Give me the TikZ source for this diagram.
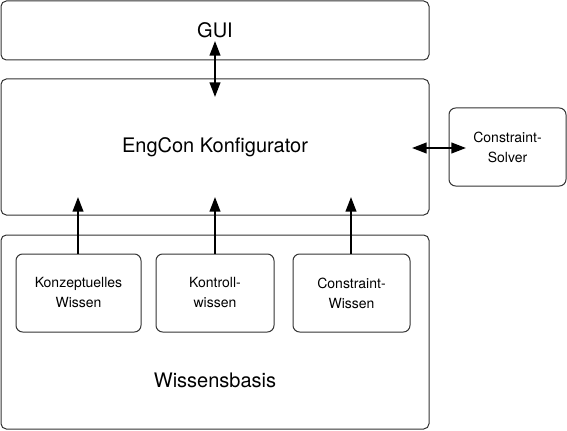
\documentclass[tikz,border=0pt]{standalone}
\usepackage{fontspec}
\setmainfont{TeX Gyre Heros}
\usetikzlibrary{arrows.meta}

\begin{document}
\begin{tikzpicture}[x=0.75pt, y=-0.75pt,
    box/.style={draw=black!80, line width=0.75pt, rounded corners=4pt, inner sep=0pt},
    teil/.style={box, rounded corners=5pt, minimum width=88pt, minimum height=58.5pt, align=center,
        font=\fontsize{10.5}{15}\selectfont},
    gross/.style={font=\fontsize{15}{18}\selectfont},
    pfeil/.style={line width=1.5pt, -{Triangle[length=11pt, width=8pt]}},
    dpfeil/.style={line width=1.5pt, {Triangle[length=11pt, width=8pt]}-{Triangle[length=11pt, width=8pt]}}]
    \useasboundingbox (0,0) rectangle (567,431);

    %grosse kaesten
    \node[box, minimum width=321pt, minimum height=44.25pt] (gui) at (215,30.5) {};
    \node[gross] (guitext) at (215,30) {GUI};
    \node[box, minimum width=321pt, minimum height=102pt] (konf) at (215,147) {};
    \node[gross] (konftext) at (215,147) {EngCon Konfigurator};
    \node[box, minimum width=321pt, minimum height=145.5pt] (basis) at (215,332) {};
    \node[gross] (basistext) at (215,380) {Wissensbasis};
    \node[teil, minimum width=87.75pt] (solver) at (507.5,147) {Constraint-\\Solver};

    %wissen
    \node[teil, minimum width=93.75pt] (konz) at (78.5,293) {Konzeptuelles\\Wissen};
    \node[teil, minimum width=88.5pt] (kontr) at (215,293) {Kontroll-\\wissen};
    \node[teil, minimum width=87.75pt] (cons) at (351.5,293) {Constraint-\\Wissen};

    %pfeile
    \coordinate (g1) at (215,41);
    \coordinate (g2) at (215,97);
    \coordinate (s1) at (412,148);
    \coordinate (s2) at (466,148);
    \draw[dpfeil] (g1) -- (g2);
    \draw[dpfeil] (s1) -- (s2);
    \foreach \n/\x in {konz/78, kontr/215, cons/351} {
        \coordinate (\n-ziel) at (\x,197);
        \draw[pfeil] (\n.north -| \n-ziel) -- (\n-ziel);
    }
\end{tikzpicture}
\end{document}
